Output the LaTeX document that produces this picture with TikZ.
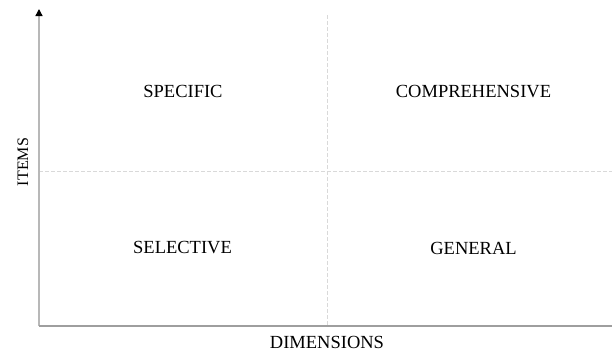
\documentclass[tikz,border=0pt]{standalone}
\usepackage{fontspec}
\setmainfont{Liberation Serif}
\usetikzlibrary{arrows.meta}
\tikzset{
        quad label/.style={font=\fontsize{18.5}{22}\selectfont, inner sep=0pt}, % quadrant texts
        axis line/.style={line width=1.4pt, draw=black!28},
        grid dash/.style={line width=0.8pt, draw=black!15, dash pattern=on 4pt off 2pt}
    }

\begin{document}
\begin{tikzpicture}[x=1pt, y=-1pt]
\useasboundingbox (0,0) rectangle (613,354);
% axes corner and ends
\coordinate (O)    at (39,326);
\coordinate (ytop) at (39,9);
\coordinate (xend) at (612,326);
% dashed split lines
\coordinate (vtop) at (327,15);
\coordinate (vbot) at (327,326);
\coordinate (hleft)  at (39,171);
\coordinate (hright) at (612,171);
\draw[grid dash] (vtop) -- (vbot);
\draw[grid dash] (hleft) -- (hright);
\draw[axis line, -{Triangle[width=7pt, length=7pt, color=black]}] (O) -- (ytop);
\draw[axis line, draw=black!38] (O) -- (xend);
% quadrant names
\node[quad label] (specific) at (183,91.5) {SPECIFIC};
\node[quad label] (compr)    at (473.5,91.5) {COMPREHENSIVE};
\node[quad label] (select)   at (182.5,248) {SELECTIVE};
\node[quad label] (general)  at (473.5,248) {GENERAL};
% axis names
\node[quad label] (dims)  at (327,342) {DIMENSIONS};
\node[quad label, font=\fontsize{16}{19}\selectfont, rotate=90] (items) at (23,162) {ITEMS};
\end{tikzpicture}
\end{document}
